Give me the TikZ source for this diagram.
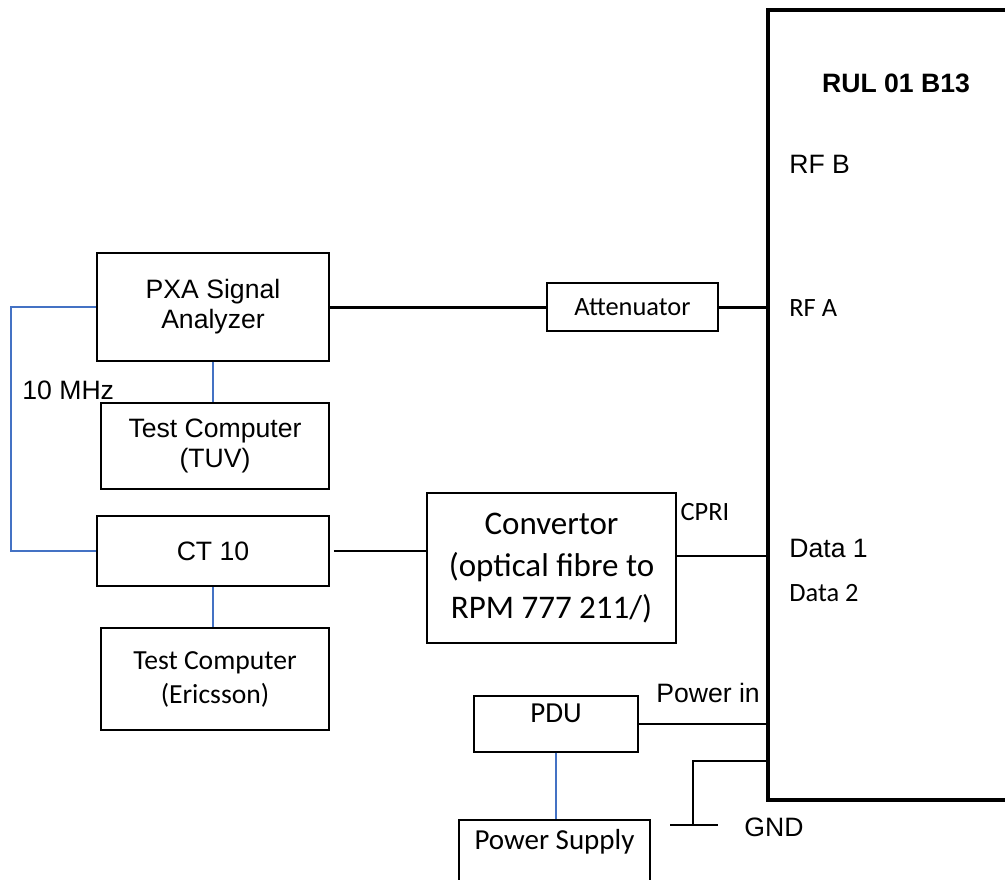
\documentclass[tikz,border=0pt]{standalone}
\usepackage{fontspec}
\setmainfont{Liberation Sans}
\newfontfamily\calibri{Carlito}
\usepackage{tikz}
\definecolor{linkblue}{RGB}{68,114,196}

\begin{document}
\begin{tikzpicture}[x=0.5pt,y=-0.5pt,
 font=\fontsize{13.3}{15}\selectfont,
 box/.style={draw,line width=0.8pt,inner sep=0pt,align=center},
 calS/.style={font=\calibri\fontsize{13.2}{15}\selectfont},
 calM/.style={font=\calibri\fontsize{14.5}{17}\selectfont},
 calL/.style={font=\calibri\fontsize{16.5}{20.8}\selectfont},
 wire/.style={line width=0.8pt}, rfwire/.style={line width=1.5pt},
 ref/.style={draw=linkblue,line width=0.8pt}]
\useasboundingbox (0,0) rectangle (1005,879);
% unit under test
\node[draw,line width=1.75pt,outer sep=0pt,anchor=north west,minimum width=140pt,minimum height=395pt] (rul) at (768,10) {};
\node[font=\fontsize{13.3}{15}\selectfont\bfseries] (rultitle) at (896,83) {RUL 01 B13};
\node[anchor=west,inner sep=0pt] (rfb) at (789,164) {RF B};
\node[calS,anchor=west,inner sep=0pt] (rfa) at (789,308) {RF A};
\node[anchor=west,inner sep=0pt] (data1) at (789,548) {Data 1};
\node[calS,anchor=west,inner sep=0pt] (data2) at (789,593) {Data 2};
% test set
\node[box,minimum width=116pt,minimum height=54pt] (pxa) at (213,307) {PXA Signal\\Analyzer};
\node[box,minimum width=114pt,minimum height=43pt] (tuv) at (215,446) {Test Computer\\(TUV)};
\node[box,minimum width=116pt,minimum height=35pt] (ct) at (213,551) {CT 10};
\node[box,font=\calibri\fontsize{13.8}{17}\selectfont,minimum width=114pt,minimum height=51pt] (eric) at (215,679) {Test Computer\\(Ericsson)};
\node[box,calS,minimum width=85.5pt,minimum height=24pt] (att) at (632.5,307) {Attenuator};
\node[box,calL,minimum width=124.5pt,minimum height=75pt] (conv) at (551.5,568) {Convertor\\(optical fibre to\\RPM 777 211/)};
\node[box,calM,anchor=north,minimum width=82pt,text height=13.1pt,text depth=14.9pt] (pdu) at (556,695) {PDU};
\node[box,calM,anchor=north,minimum width=95.5pt,text height=15pt,text depth=26pt] (psu) at (554.5,819) {Power Supply};
\node[anchor=west,inner sep=0pt] (mhz) at (22,390) {10 MHz};
\node[calS] (cpri) at (705,512) {CPRI};
\node (powin) at (708,693) {Power in};
\node (gndlbl) at (774,827) {GND};
% connections
\draw[rfwire] (pxa) -- (att);
\draw[rfwire] (att) -- (att -| rul.west);
\draw[ref] (pxa.south) -- (pxa.south |- tuv.north);
\draw[ref] (ct.south) -- (ct.south |- eric.north);
\draw[ref] (pxa.west) -- ++(-85,0) |- (ct.west);
\draw[wire] ([xshift=2pt]ct.east) -- (ct.east -| conv.west);
\draw[wire] ([yshift=6pt]conv.east) -- ([yshift=6pt]conv.east -| rul.west);
\draw[wire] (pdu) -- (pdu -| rul.west);
\draw[ref] (pdu.south) -- (pdu.south |- psu.north);
\coordinate (gndtap) at (768,761);
\coordinate (gnd) at (693,825);
\draw[wire] (gndtap) -| (gnd);
\draw[wire] ([xshift=-11.5pt]gnd) -- ([xshift=12.5pt]gnd);
\end{tikzpicture}
\end{document}
